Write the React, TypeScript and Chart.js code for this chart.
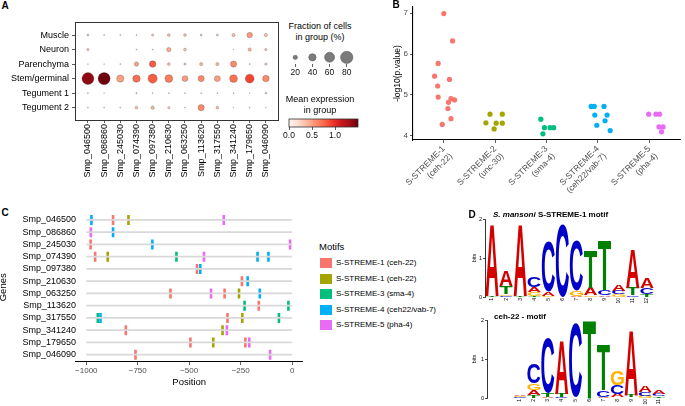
import React, { useEffect, useRef } from 'react';
import { Chart, registerables } from 'chart.js';

Chart.register(...registerables);

const FONT = "'Liberation Sans', Arial, Helvetica, sans-serif";

// ---------------- Panel A : dot plot ----------------
const cellTypes = ['Muscle', 'Neuron', 'Parenchyma', 'Stem/germinal', 'Tegument 1', 'Tegument 2'];
const genes = [
  'Smp_046500', 'Smp_086860', 'Smp_245030', 'Smp_074390', 'Smp_097380', 'Smp_210630',
  'Smp_063250', 'Smp_113620', 'Smp_317550', 'Smp_341240', 'Smp_179650', 'Smp_046090',
];
// fraction of cells in group (%)
const fracMuscle = [7, 3, 3, 3, 8, 11, 11, 7, 7, 13, 27, 14];
const fracNeuron = [8, 0, 0, 3, 3, 20, 11, 0, 0, 2, 14, 9];
const fracParenchyma = [2, 2, 3, 20, 34, 11, 8, 13, 13, 32, 3, 9];
const fracStem = [77, 78, 39, 41, 54, 43, 30, 32, 30, 43, 51, 34];
const fracTegument1 = [3, 2, 0, 4, 3, 3, 3, 3, 3, 3, 2, 6];
const fracTegument2 = [3, 3, 3, 11, 14, 8, 3, 32, 11, 2, 3, 2];
// mean expression in group
const exprMuscle = [0.3, 0.2, 0.2, 0.2, 0.3, 0.35, 0.35, 0.3, 0.3, 0.35, 0.52, 0.35];
const exprNeuron = [0.3, 0, 0, 0.2, 0.2, 0.45, 0.35, 0, 0, 0.2, 0.4, 0.3];
const exprParenchyma = [0.2, 0.2, 0.2, 0.5, 0.8, 0.35, 0.3, 0.4, 0.4, 0.6, 0.2, 0.3];
const exprStem = [1.38, 1.48, 0.5, 0.72, 0.8, 0.66, 0.52, 0.6, 0.52, 0.72, 0.9, 0.6];
const exprTegument1 = [0.2, 0.2, 0, 0.25, 0.2, 0.2, 0.2, 0.2, 0.2, 0.2, 0.2, 0.3];
const exprTegument2 = [0.2, 0.2, 0.2, 0.35, 0.4, 0.3, 0.2, 0.6, 0.35, 0.2, 0.2, 0.2];
const sizeLegendValues = [20, 40, 60, 80];
const colorbarTickValues = [0, 0.5, 1.0];
const exprMax = 1.5;

// ---------------- Panel B : motif p-values ----------------
const motifCategories = [
  ['S-STREME-1', '(ceh-22)'],
  ['S-STREME-2', '(unc-30)'],
  ['S-STREME-3', '(sma-4)'],
  ['S-STREME-4', '(ceh22/vab-7)'],
  ['S-STREME-5', '(pha-4)'],
];
const motifColors = ['#F8766D', '#A3A500', '#00BF7D', '#00B0F6', '#E76BF3'];
const logP1 = [6.99, 6.32, 5.77, 5.46, 5.38, 5.22, 4.95, 4.91, 4.88, 4.82, 4.67, 4.42, 4.28];
const jitter1 = [0, 0.17, -0.11, -0.18, 0.11, -0.12, -0.11, 0.14, 0.21, 0.09, 0.08, 0.14, -0.03];
const logP2 = [4.53, 4.53, 4.32, 4.31, 4.31, 4.17];
const jitter2 = [-0.1, 0.14, -0.18, 0.02, 0.14, -0.02];
const logP3 = [4.41, 4.2, 4.2, 4.2, 4.05];
const jitter3 = [-0.11, -0.04, 0.07, 0.14, -0.07];
const logP4 = [4.72, 4.72, 4.72, 4.51, 4.51, 4.37, 4.26, 4.13];
const jitter4 = [-0.13, -0.07, 0.12, -0.06, 0.18, 0.14, -0.02, 0.24];
const logP5 = [4.53, 4.53, 4.53, 4.22, 4.22, 4.1];
const jitter5 = [-0.01, 0.13, 0.2, 0.19, 0.27, 0.24];

// ---------------- Panel C : motif positions ----------------
const motifLegendLabels = [
  'S-STREME-1 (ceh-22)', 'S-STREME-1 (ceh-22)', 'S-STREME-3 (sma-4)',
  'S-STREME-4 (ceh22/vab-7)', 'S-STREME-5 (pha-4)',
];
const positionTicks = [-1000, -750, -500, -250, 0];
// gene index (into genes) and position of each site
const sitesRedGene = [0, 2, 3, 4, 5, 6, 6, 7, 8, 9, 10, 10, 11];
const sitesRedPos = [-870, -979, -957, -462, -244, -591, -328, -162, -314, -808, -494, -227, -761];
const sitesOliveGene = [0, 3, 6, 8, 9, 10];
const sitesOlivePos = [-795, -896, -258, -242, -338, -383];
const sitesGreenGene = [3, 7, 7, 8, 8];
const sitesGreenPos = [-562, -231, -18, -944, -64];
const sitesBlueGene = [0, 1, 2, 3, 3, 4, 5, 6, 8];
const sitesBluePos = [-975, -870, -679, -168, -115, -446, -216, -157, -931];
const sitesPinkGene = [0, 1, 2, 3, 6, 9, 10, 11];
const sitesPinkPos = [-332, -978, -10, -428, -394, -317, -208, -107];

// ---------------- Panel D : sequence logos (bottom -> top, bits) ----------------
const logoSmansoni: [string, number][][] = [
  [['T', 0.03], ['A', 1.82]],
  [['C', 0.03], ['G', 0.04], ['T', 0.2], ['A', 0.38]],
  [['T', 0.03], ['A', 1.82]],
  [['T', 0.03], ['G', 0.1], ['A', 0.13], ['C', 0.26]],
  [['G', 0.03], ['A', 0.11], ['C', 1.29]],
  [['C', 1.86]],
  [['A', 0.03], ['G', 0.12], ['C', 1.29]],
  [['G', 0.04], ['A', 0.2], ['T', 0.97]],
  [['A', 0.04], ['C', 0.14], ['T', 1.27]],
  [['G', 0.07], ['C', 0.09], ['A', 0.15]],
  [['C', 0.04], ['T', 0.2], ['A', 0.98]],
  [['T', 0.08], ['C', 0.16], ['A', 0.26]],
];
const logoCeh22: [string, number][][] = [
  [['T', 0.01], ['C', 0.015], ['G', 0.015], ['A', 0.02]],
  [['T', 0.07], ['A', 0.14], ['G', 0.18], ['C', 0.5]],
  [['A', 0.03], ['T', 0.1], ['C', 1.42]],
  [['C', 0.03], ['T', 0.08], ['A', 1.38]],
  [['T', 0.02], ['C', 1.88]],
  [['T', 2.0]],
  [['A', 0.03], ['C', 0.17], ['T', 1.15]],
  [['T', 0.02], ['A', 0.08], ['C', 0.22], ['G', 0.36]],
  [['C', 0.02], ['T', 0.06], ['A', 1.66]],
  [['G', 0.06], ['C', 0.1], ['A', 0.15]],
  [['T', 0.04], ['C', 0.06], ['A', 0.11]],
];
const logoLetterColors: Record<string, string> = { A: '#D40000', C: '#0000C8', G: '#FFB300', T: '#008000' };

// ---------------- helpers ----------------
const REDS = ['#fff5f0', '#fee0d2', '#fcbba1', '#fc9272', '#fb6a4a', '#ef3b2c', '#cb181d', '#a50f15', '#67000d'];
function hexRgb(h: string) {
  return [parseInt(h.slice(1, 3), 16), parseInt(h.slice(3, 5), 16), parseInt(h.slice(5, 7), 16)];
}
function reds(t: number) {
  const c = Math.max(0, Math.min(1, t)) * (REDS.length - 1);
  const i = Math.min(REDS.length - 2, Math.floor(c));
  const f = c - i;
  const a = hexRgb(REDS[i]);
  const b = hexRgb(REDS[i + 1]);
  const m = a.map((v, k) => Math.round(v + (b[k] - v) * f));
  return `rgb(${m[0]},${m[1]},${m[2]})`;
}
function fracToRadius(f: number) {
  return 7.3 * Math.pow(f / 100, 0.75);
}
function fixedTicks(values: number[]) {
  return (s: any) => {
    s.ticks = values.map((v) => ({ value: v }));
  };
}
const baseOptions = () => ({
  responsive: false,
  maintainAspectRatio: false,
  animation: false,
  events: [],
  plugins: { legend: { display: false }, tooltip: { enabled: false } },
});

const framePlugin = {
  id: 'frame',
  afterDraw(chart: any) {
    const { left, top, right, bottom } = chart.chartArea;
    const ctx = chart.ctx;
    ctx.save();
    ctx.strokeStyle = '#333';
    ctx.lineWidth = 1;
    ctx.strokeRect(Math.round(left) + 0.5, Math.round(top) + 0.5, Math.round(right - left), Math.round(bottom - top));
    ctx.restore();
  },
};

function makeDotPlot() {
  const fr = [fracMuscle, fracNeuron, fracParenchyma, fracStem, fracTegument1, fracTegument2];
  const ex = [exprMuscle, exprNeuron, exprParenchyma, exprStem, exprTegument1, exprTegument2];
  const pts: any[] = [];
  const cols: string[] = [];
  fr.forEach((row, ri) =>
    row.forEach((f, gi) => {
      if (f > 0) {
        pts.push({ x: gi, y: ri, r: fracToRadius(f) });
        cols.push(reds(ex[ri][gi] / exprMax));
      }
    })
  );
  return {
    type: 'bubble',
    data: {
      datasets: [{ data: pts, backgroundColor: cols, borderColor: 'rgba(60,60,60,0.55)', borderWidth: 0.5 }],
    },
    options: {
      ...baseOptions(),
      layout: { padding: { top: 22, right: 7, left: 0, bottom: 0 } },
      scales: {
        x: {
          type: 'linear', min: -0.8, max: 11.75,
          afterBuildTicks: fixedTicks(genes.map((_, i) => i)),
          afterFit: (s: any) => { s.height = 70; },
          ticks: {
            autoSkip: false, maxRotation: 90, minRotation: 90, padding: 1, color: '#000',
            font: { family: FONT, size: 9 }, callback: (v: number) => genes[v],
          },
          grid: { display: true, drawOnChartArea: false, drawTicks: true, tickLength: 3, color: '#333', lineWidth: 0.8 },
          border: { display: false },
        },
        y: {
          type: 'linear', reverse: true, min: -0.9, max: 5.85,
          afterBuildTicks: fixedTicks(cellTypes.map((_, i) => i)),
          afterFit: (s: any) => { s.width = 75; },
          ticks: {
            autoSkip: false, padding: 3, color: '#000',
            font: { family: FONT, size: 9 }, callback: (v: number) => cellTypes[v],
          },
          grid: { display: true, drawOnChartArea: false, drawTicks: true, tickLength: 3, color: '#333', lineWidth: 0.8 },
          border: { display: false },
        },
      },
    },
    plugins: [framePlugin],
  };
}

function makeSizeLegend() {
  return {
    type: 'bubble',
    data: {
      datasets: [{
        data: sizeLegendValues.map((v) => ({ x: v, y: 0, r: fracToRadius(v) })),
        backgroundColor: '#7b7b7b', borderColor: '#555', borderWidth: 0.5,
      }],
    },
    options: {
      ...baseOptions(),
      layout: { padding: { top: 4, right: 6, left: 5, bottom: 0 } },
      scales: {
        x: {
          type: 'linear', min: 10, max: 90,
          afterBuildTicks: fixedTicks(sizeLegendValues),
          afterFit: (s: any) => { s.height = 16; },
          ticks: { autoSkip: false, maxRotation: 0, padding: 1, color: '#111', font: { family: FONT, size: 8.5 } },
          grid: { display: true, drawOnChartArea: false, tickLength: 3, color: '#333', lineWidth: 0.8 },
          border: { display: false },
        },
        y: { type: 'linear', min: -1, max: 1, display: false },
      },
    },
  };
}

function makeColorbar() {
  const gradientPlugin = {
    id: 'gradientBar',
    beforeDatasetsDraw(chart: any) {
      const xs = chart.scales.x;
      const { top, bottom } = chart.chartArea;
      const x0 = xs.getPixelForValue(0);
      const x1 = xs.getPixelForValue(exprMax);
      const ctx = chart.ctx;
      const g = ctx.createLinearGradient(x0, 0, x1, 0);
      REDS.forEach((c, i) => g.addColorStop(i / (REDS.length - 1), c));
      ctx.save();
      ctx.fillStyle = g;
      ctx.fillRect(x0, top, x1 - x0, bottom - top);
      ctx.strokeStyle = '#333';
      ctx.lineWidth = 0.8;
      ctx.strokeRect(x0, top, x1 - x0, bottom - top);
      ctx.restore();
    },
  };
  return {
    type: 'scatter',
    data: { datasets: [{ data: [] }] },
    options: {
      ...baseOptions(),
      layout: { padding: { top: 7, right: 12, left: 9, bottom: 0 } },
      scales: {
        x: {
          type: 'linear', min: 0, max: exprMax,
          afterBuildTicks: fixedTicks(colorbarTickValues),
          afterFit: (s: any) => { s.height = 19; },
          ticks: { maxRotation: 0, padding: 1, color: '#111', font: { family: FONT, size: 8.5 }, callback: (v: number) => v.toFixed(1) },
          grid: { display: true, drawOnChartArea: false, tickLength: 3, color: '#333', lineWidth: 0.8 },
          border: { display: false },
        },
        y: { type: 'linear', min: 0, max: 1, display: false },
      },
    },
    plugins: [gradientPlugin],
  };
}

function makePvalues() {
  const vals = [logP1, logP2, logP3, logP4, logP5];
  const jit = [jitter1, jitter2, jitter3, jitter4, jitter5];
  return {
    type: 'scatter',
    data: {
      datasets: vals.map((arr, k) => ({
        data: arr.map((v, i) => ({ x: k + 1 + jit[k][i], y: v })),
        pointRadius: 2.6, pointBackgroundColor: motifColors[k], pointBorderWidth: 0,
        pointBorderColor: motifColors[k],
      })),
    },
    options: {
      ...baseOptions(),
      layout: { padding: { top: 7, right: 5, left: 0, bottom: 0 } },
      scales: {
        x: {
          type: 'linear', min: 0.4, max: 5.6,
          afterBuildTicks: fixedTicks([1, 2, 3, 4, 5]),
          afterFit: (s: any) => { s.height = 60; },
          ticks: {
            autoSkip: false, maxRotation: 45, minRotation: 45, padding: 1, color: '#4d4d4d',
            font: { family: FONT, size: 8.5 }, callback: (v: number) => motifCategories[v - 1],
          },
          grid: { display: true, drawOnChartArea: false, tickLength: 3, color: '#333', lineWidth: 0.8 },
          border: { display: true, color: '#000', width: 1.1 },
        },
        y: {
          type: 'linear', min: 3.9, max: 7.15,
          afterBuildTicks: fixedTicks([4, 5, 6, 7]),
          afterFit: (s: any) => { s.width = 20; },
          ticks: { padding: 2, color: '#4d4d4d', font: { family: FONT, size: 8 } },
          grid: { display: true, drawOnChartArea: false, tickLength: 3, color: '#333', lineWidth: 0.8 },
          border: { display: true, color: '#000', width: 1.1 },
          title: { display: true, text: '-log10(p.value)', color: '#000', font: { family: FONT, size: 8.5 }, padding: { top: 0, bottom: 0 } },
        },
      },
    },
  };
}

function makeSites() {
  const lineSets = genes.map((_, i) => ({
    data: [{ x: -1000, y: i }, { x: 0, y: i }],
    showLine: true, borderColor: '#d9d9d9', borderWidth: 1.8, pointRadius: 0,
  }));
  const groups = [
    [sitesRedGene, sitesRedPos], [sitesOliveGene, sitesOlivePos], [sitesGreenGene, sitesGreenPos],
    [sitesBlueGene, sitesBluePos], [sitesPinkGene, sitesPinkPos],
  ];
  const siteSets = groups.map(([g, p], k) => ({
    data: p.map((pos, i) => ({ x: pos, y: g[i] })),
    showLine: false, pointStyle: 'line', pointRotation: 90, pointRadius: 5,
    pointBorderWidth: 2.6, pointBorderColor: motifColors[k], pointBackgroundColor: motifColors[k],
    borderColor: motifColors[k],
  }));
  return {
    type: 'scatter',
    data: { datasets: [...lineSets, ...siteSets] },
    options: {
      ...baseOptions(),
      layout: { padding: { top: 6.6, right: 7, left: 0, bottom: 0 } },
      scales: {
        x: {
          type: 'linear', min: -1050, max: 50,
          afterBuildTicks: fixedTicks(positionTicks),
          afterFit: (s: any) => { s.height = 26; },
          ticks: {
            maxRotation: 0, padding: 1, color: '#4d4d4d', font: { family: FONT, size: 8 },
            callback: (v: number) => (v < 0 ? '\u2212' + Math.abs(v) : String(v)),
          },
          grid: { display: true, drawOnChartArea: false, tickLength: 3, color: '#333', lineWidth: 0.8 },
          border: { display: true, color: '#000', width: 1.1 },
          title: { display: true, text: 'Position', color: '#000', font: { family: FONT, size: 9.5 }, padding: { top: 0, bottom: 0 } },
        },
        y: {
          type: 'linear', reverse: true, min: -0.6, max: 11.6,
          afterBuildTicks: fixedTicks(genes.map((_, i) => i)),
          afterFit: (s: any) => { s.width = 76; },
          ticks: { autoSkip: false, padding: 0, color: '#000', font: { family: FONT, size: 9 }, callback: (v: number) => genes[v] },
          grid: { display: false, drawTicks: false },
          border: { display: false },
          title: { display: true, text: 'Genes', color: '#000', font: { family: FONT, size: 9.5 }, padding: { top: -2, bottom: 0 } },
        },
      },
    },
  };
}

const glyphCache: Record<string, any> = {};
function glyph(ctx: CanvasRenderingContext2D, letter: string) {
  if (glyphCache[letter]) return glyphCache[letter];
  const font = `bold 100px ${FONT}`;
  ctx.save();
  ctx.font = font;
  const m = ctx.measureText(letter);
  ctx.restore();
  const g = {
    font,
    left: m.actualBoundingBoxLeft,
    w: m.actualBoundingBoxLeft + m.actualBoundingBoxRight,
    asc: m.actualBoundingBoxAscent,
    h: m.actualBoundingBoxAscent + m.actualBoundingBoxDescent,
  };
  glyphCache[letter] = g;
  return g;
}
const logoPlugin = {
  id: 'logoLetters',
  afterDatasetsDraw(chart: any) {
    const ctx = chart.ctx;
    chart.data.datasets.forEach((ds: any, di: number) => {
      const meta = chart.getDatasetMeta(di);
      meta.data.forEach((el: any, j: number) => {
        const item = ds.data[j];
        const { x, y, base, width } = el.getProps(['x', 'y', 'base', 'width'], true);
        const h = base - y;
        if (h < 0.25) return;
        const g = glyph(ctx, item.letter);
        ctx.save();
        ctx.translate(x - width / 2, y);
        ctx.scale(width / g.w, h / g.h);
        ctx.font = g.font;
        ctx.textAlign = 'left';
        ctx.textBaseline = 'alphabetic';
        ctx.fillStyle = logoLetterColors[item.letter];
        ctx.fillText(item.letter, g.left, g.asc);
        ctx.restore();
      });
    });
  },
};

function makeLogo(logo: [string, number][][], xmin: number, xmax: number, padTop: number, padRight: number, yWidth: number, xHeight: number) {
  const layers = Math.max(...logo.map((s) => s.length));
  const datasets: any[] = [];
  for (let k = 0; k < layers; k++) {
    datasets.push({
      data: logo
        .map((s, p) => (s[k] ? { x: p + 1, y: s[k][1], letter: s[k][0] } : null))
        .filter((d) => d !== null),
      backgroundColor: 'rgba(0,0,0,0)', borderWidth: 0, barPercentage: 1, categoryPercentage: 0.94,
    });
  }
  return {
    type: 'bar',
    data: { datasets },
    options: {
      ...baseOptions(),
      layout: { padding: { top: padTop, right: padRight, left: 0, bottom: 0 } },
      scales: {
        x: {
          type: 'linear', stacked: true, min: xmin, max: xmax, offset: false,
          afterBuildTicks: fixedTicks(logo.map((_, p) => p + 1)),
          afterFit: (s: any) => { s.height = xHeight; },
          ticks: { autoSkip: false, minRotation: 90, maxRotation: 90, padding: 1, color: '#000', font: { family: FONT, size: 5 } },
          grid: { display: false, drawTicks: false },
          border: { display: false },
        },
        y: {
          type: 'linear', stacked: true, min: 0, max: 2,
          afterBuildTicks: fixedTicks([0, 1, 2]),
          afterFit: (s: any) => { s.width = yWidth; },
          ticks: { padding: 1, color: '#000', font: { family: FONT, size: 5.5 } },
          grid: { display: true, drawOnChartArea: false, tickLength: 2, color: '#000', lineWidth: 0.7 },
          border: { display: true, color: '#000', width: 0.8 },
          title: { display: true, text: 'bits', color: '#000', font: { family: FONT, size: 5.5 }, padding: { top: 1, bottom: 0 } },
        },
      },
    },
    plugins: [logoPlugin],
  };
}

// ---------------- components ----------------
function ChartBox(props: { left: number; top: number; width: number; height: number; make: () => any }) {
  const ref = useRef<HTMLCanvasElement | null>(null);
  useEffect(() => {
    if (!ref.current) return;
    const chart = new Chart(ref.current, props.make());
    return () => chart.destroy();
  }, []);
  return (
    <div style={{ position: 'absolute', left: props.left, top: props.top, width: props.width, height: props.height }}>
      <canvas ref={ref} width={props.width} height={props.height} style={{ display: 'block', width: props.width, height: props.height }} />
    </div>
  );
}

function Txt(props: { x: number; y: number; size?: number; bold?: boolean; align?: string; color?: string; children: any }) {
  const { x, y, size = 9, bold = false, align = 'center', color = '#000' } = props;
  const tx = align === 'center' ? '-50%' : align === 'right' ? '-100%' : '0';
  return (
    <div
      style={{
        position: 'absolute', left: x, top: y, transform: `translate(${tx}, -50%)`,
        fontFamily: FONT, fontSize: size, fontWeight: bold ? 'bold' : 'normal', color,
        whiteSpace: 'nowrap', lineHeight: 1,
      }}
    >
      {props.children}
    </div>
  );
}

export default function App() {
  const legendY = [263, 278.5, 294, 309.5, 325];
  return (
    <div style={{ position: 'absolute', left: 0, top: 0, width: 685, height: 406, background: '#fff', overflow: 'hidden' }}>
      {/* Panel A */}
      <Txt x={5} y={6} size={10} bold>A</Txt>
      <ChartBox left={0} top={0} width={285} height={190} make={makeDotPlot} />
      <Txt x={320} y={26}>Fraction of cells</Txt>
      <Txt x={320} y={37}>in group (%)</Txt>
      <ChartBox left={280} top={44} width={82} height={36} make={makeSizeLegend} />
      <Txt x={320} y={99}>Mean expression</Txt>
      <Txt x={320} y={110}>in group</Txt>
      <ChartBox left={280} top={112} width={90} height={34} make={makeColorbar} />

      {/* Panel B */}
      <Txt x={396} y={5} size={10} bold>B</Txt>
      <ChartBox left={393} top={0} width={292} height={200} make={makePvalues} />

      {/* Panel C */}
      <Txt x={5} y={213} size={10} bold>C</Txt>
      <ChartBox left={0} top={205} width={310} height={183} make={makeSites} />
      <Txt x={319} y={247} size={9.5} align="left">Motifs</Txt>
      {motifLegendLabels.map((lab, i) => (
        <React.Fragment key={i}>
          <div style={{ position: 'absolute', left: 320, top: legendY[i] - 5, width: 12, height: 10, background: motifColors[i] }} />
          <Txt x={336} y={legendY[i]} size={8} align="left">{lab}</Txt>
        </React.Fragment>
      ))}

      {/* Panel D */}
      <Txt x={472} y={215} size={10} bold>D</Txt>
      <div style={{ position: 'absolute', left: 493, top: 211, fontFamily: FONT, fontSize: 8, fontWeight: 'bold', whiteSpace: 'nowrap', lineHeight: 1 }}>
        <i>S. mansoni</i> S-STREME-1 motif
      </div>
      <ChartBox left={470} top={205} width={215} height={100} make={() => makeLogo(logoSmansoni, 0.5, 12.5, 14, 31, 15, 8)} />
      <div style={{ position: 'absolute', left: 494, top: 313, fontFamily: FONT, fontSize: 8, fontWeight: 'bold', whiteSpace: 'nowrap', lineHeight: 1 }}>
        ceh-22 - motif
      </div>
      <ChartBox left={470} top={305} width={215} height={101} make={() => makeLogo(logoCeh22, -1.37, 11.5, 15, 19, 17, 8)} />
    </div>
  );
}
